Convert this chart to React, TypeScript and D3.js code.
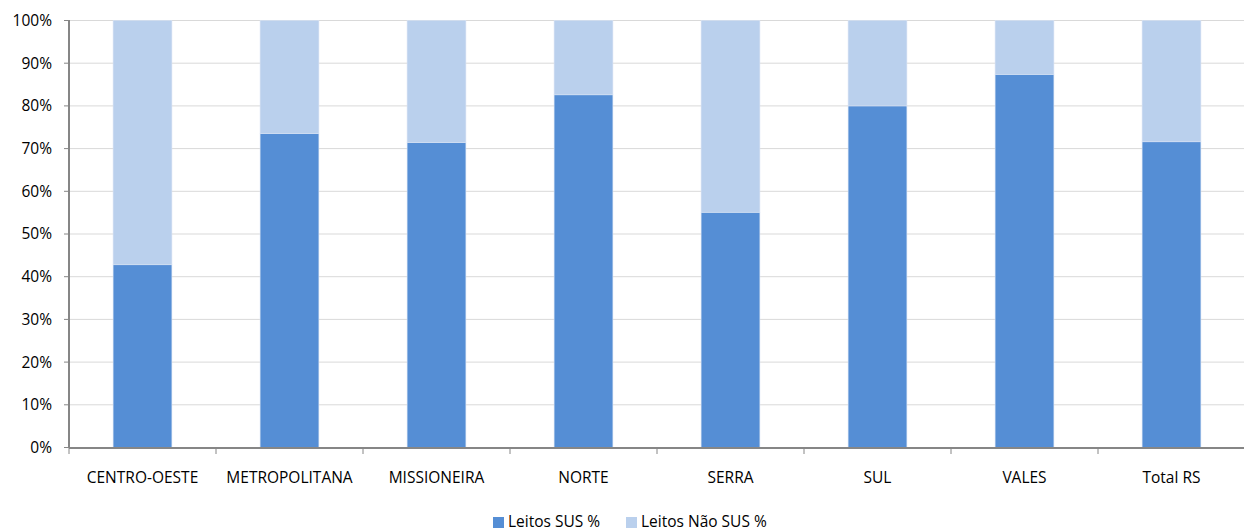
import React from "react";
import * as d3 from "d3";

const categories = ["CENTRO-OESTE", "METROPOLITANA", "MISSIONEIRA", "NORTE", "SERRA", "SUL", "VALES", "Total RS"];
const leitosSus = [42.8, 73.5, 71.4, 82.6, 55.1, 80.0, 87.4, 71.6];
const leitosNaoSus = leitosSus.map((v) => 100 - v);
const seriesNames = ["Leitos SUS %", "Leitos Não SUS %"];
const yTicks = [0, 10, 20, 30, 40, 50, 60, 70, 80, 90, 100];

const W = 1244;
const H = 531;
const colors = ["#558ED5", "#BAD0ED"];
const font = "'Open Sans', sans-serif";

export default function App() {
  const x = d3.scaleBand<string>().domain(categories).range([69, 1245]).paddingInner(0.6).paddingOuter(0.3);
  const band = d3.scaleBand<string>().domain(categories).range([69, 1245]);
  const y = d3.scaleLinear().domain([0, 100]).range([447.5, 20.5]);

  const rows = categories.map((c, i) => ({ cat: c, sus: leitosSus[i], nao: leitosNaoSus[i] }));
  const stack = d3.stack<any>().keys(["sus", "nao"])(rows);

  return (
    <svg width={W} height={H} style={{ position: "absolute", left: 0, top: 0, background: "#fff" }} fontFamily={font}>
      {yTicks.map((t) => (
        <g key={t}>
          {t > 0 && <line x1={69} x2={1244} y1={y(t)} y2={y(t)} stroke="#D9D9D9" strokeWidth={1} />}
          <line x1={64} x2={69} y1={y(t)} y2={y(t)} stroke="#868686" strokeWidth={1} />
          <text x={52} y={y(t)} dy="0.35em" textAnchor="end" fontSize={15.5} fill="#000">{t}%</text>
        </g>
      ))}
      {stack.map((s, si) =>
        s.map((d, i) => (
          <rect
            key={si + "-" + i}
            x={x(categories[i])!}
            width={x.bandwidth()}
            y={y(d[1])}
            height={y(d[0]) - y(d[1])}
            fill={colors[si]}
            stroke="#D6E2F3"
            strokeWidth={0.6}
          />
        ))
      )}
      <line x1={69} x2={69} y1={20} y2={448} stroke="#868686" strokeWidth={2} />
      <line x1={69} x2={1244} y1={448} y2={448} stroke="#868686" strokeWidth={2} />
      {categories.map((c, i) => (
        <line key={"t" + i} x1={band(c)!} x2={band(c)!} y1={448} y2={454} stroke="#868686" strokeWidth={1} />
      ))}
      {categories.map((c) => (
        <text key={c} x={x(c)! + x.bandwidth() / 2} y={483} textAnchor="middle" fontSize={15.5} fill="#000">{c}</text>
      ))}
      <g>
        <rect x={493} y={517} width={11} height={11} fill={colors[0]} />
        <text x={508} y={527} fontSize={15.5} fill="#000">{seriesNames[0]}</text>
        <rect x={626} y={517} width={11} height={11} fill={colors[1]} />
        <text x={641} y={527} fontSize={15.5} fill="#000">{seriesNames[1]}</text>
      </g>
    </svg>
  );
}
